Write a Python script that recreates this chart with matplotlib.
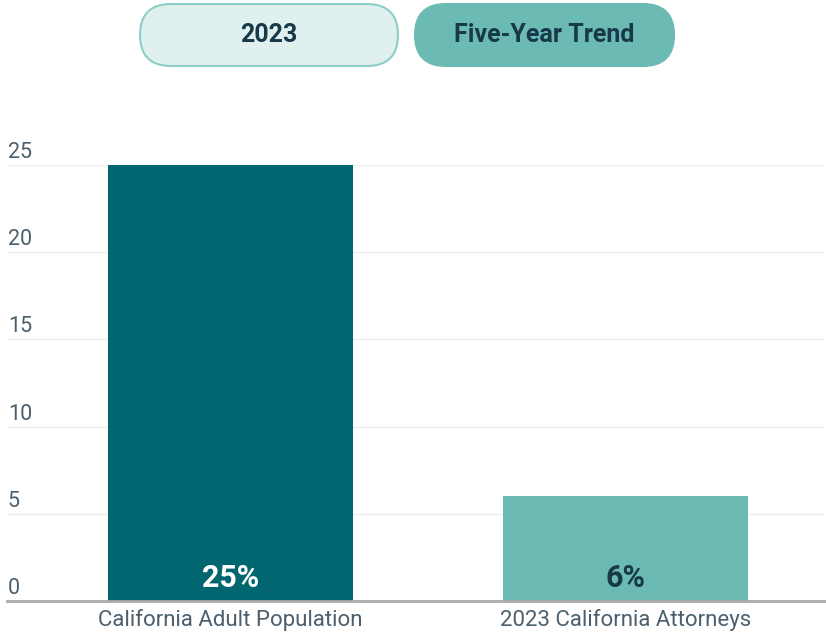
import matplotlib.pyplot as plt
from matplotlib.patches import FancyBboxPatch
from matplotlib.transforms import blended_transform_factory

plt.rcParams['font.family'] = ['Roboto', 'DejaVu Sans']

categories = ['California Adult Population', '2023 California Attorneys']
values = [25, 6]
value_labels = ['25%', '6%']
yticks = [0, 5, 10, 15, 20, 25]
buttons = ['2023', 'Five-Year Trend']

bar_colors = ['#016670', '#6bbab3']
label_colors = ['white', '#17394a']
text_gray = '#4b5f6d'

W, H = 826, 634
fig = plt.figure(figsize=(W / 100, H / 100), dpi=100)

# main bar axes
ax = fig.add_axes([7 / W, 1 - 601 / H, (825 - 7) / W, (601 - 165) / H])
x = list(range(len(categories)))
ax.bar(x, values, width=0.62, color=bar_colors, zorder=2)
ax.set_xlim(-0.565, 1.506)
ax.set_ylim(0, 25)

for sp in ['top', 'right', 'left']:
    ax.spines[sp].set_visible(False)
ax.spines['bottom'].set_color('#aaaaaa')
ax.spines['bottom'].set_linewidth(2)
ax.spines['bottom'].set_zorder(3)

ax.set_yticks(yticks)
ax.set_yticklabels([])
ax.tick_params(axis='y', length=0)
ax.grid(axis='y', color='#eeeeee', linewidth=1, zorder=0)
trans = blended_transform_factory(ax.transAxes, ax.transData)
for t in yticks:
    ax.annotate(str(t), (0, t), xycoords=trans, xytext=(0.5, 5), textcoords='offset points',
                ha='left', va='baseline', fontsize=15.5, color=text_gray)

ax.set_xticks(x)
ax.set_xticklabels(categories, fontsize=16, color=text_gray)
ax.tick_params(axis='x', length=0, pad=5.5)

for xi, v, lab, c in zip(x, values, value_labels, label_colors):
    ax.annotate(lab, (xi, 0), xytext=(0, 16.5), textcoords='offset points',
                ha='center', va='center', fontsize=22, fontweight='bold', color=c)

# toggle buttons on top
bx = fig.add_axes([0, 0, 1, 1])
bx.set_xlim(0, W)
bx.set_ylim(H, 0)
bx.axis('off')
pills = [(140, 258, '#dff0ee', '#8ccfc6'), (415, 259, '#6bbab3', '#6bbab3')]
for (left, width, fc, ec), name in zip(pills, buttons):
    bx.add_patch(FancyBboxPatch((left, 4), width, 62,
                                boxstyle='round,pad=0,rounding_size=31',
                                fc=fc, ec=ec, lw=1.5))
    bx.text(left + width / 2, 35, name, ha='center', va='center',
            fontsize=18, fontweight='bold', color='#17394a')

fig.savefig('out.png', dpi=100)
